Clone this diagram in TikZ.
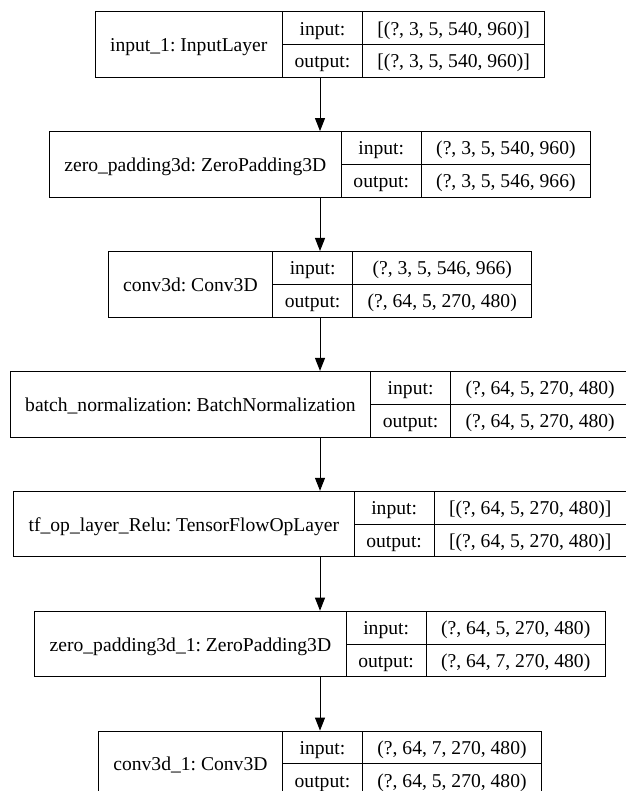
\documentclass[tikz,border=0pt]{standalone}
\usepackage{fontspec}
\setmainfont{Liberation Serif}
\usetikzlibrary{arrows.meta}
\newlength\wA \newlength\wB \newlength\wC
\newcommand\lfs{\fontsize{19.6}{23}\selectfont\frenchspacing}
\tikzset{
  layer/.style={draw, line width=1pt, inner sep=0pt, minimum height=65.6pt},
  rulel/.style={line width=1pt},
  txt/.style={anchor=base, inner sep=0pt},
  arr/.style={line width=1pt, -{Triangle[length=13pt,width=10pt]}}
}
\newcommand\premeasure[5]{%
  \settowidth\wA{\lfs #3}%
  \settowidth\wB{\lfs #4}%
  \settowidth\wC{\lfs #5}%
  \ifdim\wC>\wB \wB=\wC\fi
  \expandafter\xdef\csname wA@#1\endcsname{\the\wA}%
  \expandafter\xdef\csname wB@#1\endcsname{\the\wB}%
}
\newcommand\layerbox[5]{%
  \edef\wAm{\csname wA@#1\endcsname}%
  \edef\wBm{\csname wB@#1\endcsname}%
  \pgfmathsetlengthmacro\tot{\wAm+30pt+80pt+\wBm+30pt}%
  \pgfmathsetlengthmacro\xl{320pt-\tot/2}%
  \pgfmathsetlengthmacro\xa{\xl+\wAm+30pt}%
  \pgfmathsetlengthmacro\xb{\xa+80pt}%
  \pgfmathsetlengthmacro\xr{\xl+\tot}%
  \pgfmathsetlengthmacro\xt{(\xl+\xa)/2}%
  \pgfmathsetlengthmacro\xlab{(\xa+\xb)/2}%
  \pgfmathsetlengthmacro\xval{(\xb+\xr)/2}%
  \pgfmathsetlengthmacro\yc{-#2pt}%
  \pgfmathsetlengthmacro\yt{\yc+32.8pt}%
  \pgfmathsetlengthmacro\yb{\yc-32.8pt}%
  \pgfmathsetlengthmacro\yone{\yc+16.4pt-7pt}%
  \pgfmathsetlengthmacro\ytwo{\yc-16.4pt-7pt}%
  \pgfmathsetlengthmacro\ynm{\yc-7pt}%
  \node[layer, minimum width=\tot] (#1) at (320pt,\yc) {};
  \draw[rulel] (\xa,\yt) -- (\xa,\yb);
  \draw[rulel] (\xb,\yt) -- (\xb,\yb);
  \draw[rulel] (\xa,\yc) -- (\xr,\yc);
  \node[txt] (#1-t) at (\xt,\ynm) {\lfs #3};
  \node[txt] (#1-il) at (\xlab,\yone) {\lfs input:};
  \node[txt] (#1-iv) at (\xval,\yone) {\lfs #4};
  \node[txt] (#1-ol) at (\xlab,\ytwo) {\lfs output:};
  \node[txt] (#1-ov) at (\xval,\ytwo) {\lfs #5};
}
\newcommand\alllayers{%
\layerentry{b1}{44.5}{input\_1: InputLayer}{[(?, 3, 5, 540, 960)]}{[(?, 3, 5, 540, 960)]}%
\layerentry{b2}{164.4}{zero\_padding3d: ZeroPadding3D}{(?, 3, 5, 540, 960)}{(?, 3, 5, 546, 966)}%
\layerentry{b3}{284.3}{conv3d: Conv3D}{(?, 3, 5, 546, 966)}{(?, 64, 5, 270, 480)}%
\layerentry{b4}{404.2}{batch\_normalization: BatchNormalization}{(?, 64, 5, 270, 480)}{(?, 64, 5, 270, 480)}%
\layerentry{b5}{524.1}{tf\_op\_layer\_Relu: TensorFlowOpLayer}{[(?, 64, 5, 270, 480)]}{[(?, 64, 5, 270, 480)]}%
\layerentry{b6}{644.0}{zero\_padding3d\_1: ZeroPadding3D}{(?, 64, 5, 270, 480)}{(?, 64, 7, 270, 480)}%
\layerentry{b7}{763.9}{conv3d\_1: Conv3D}{(?, 64, 7, 270, 480)}{(?, 64, 5, 270, 480)}%
}
\AtBeginDocument{{\let\layerentry\premeasure \alllayers}}
\begin{document}
\begin{tikzpicture}
\useasboundingbox[fill=white] (0,0) rectangle (625pt,-791pt);
\let\layerentry\layerbox
\alllayers
\draw[arr] (b1) -- (b2);
\draw[arr] (b2) -- (b3);
\draw[arr] (b3) -- (b4);
\draw[arr] (b4) -- (b5);
\draw[arr] (b5) -- (b6);
\draw[arr] (b6) -- (b7);
\end{tikzpicture}
\end{document}
